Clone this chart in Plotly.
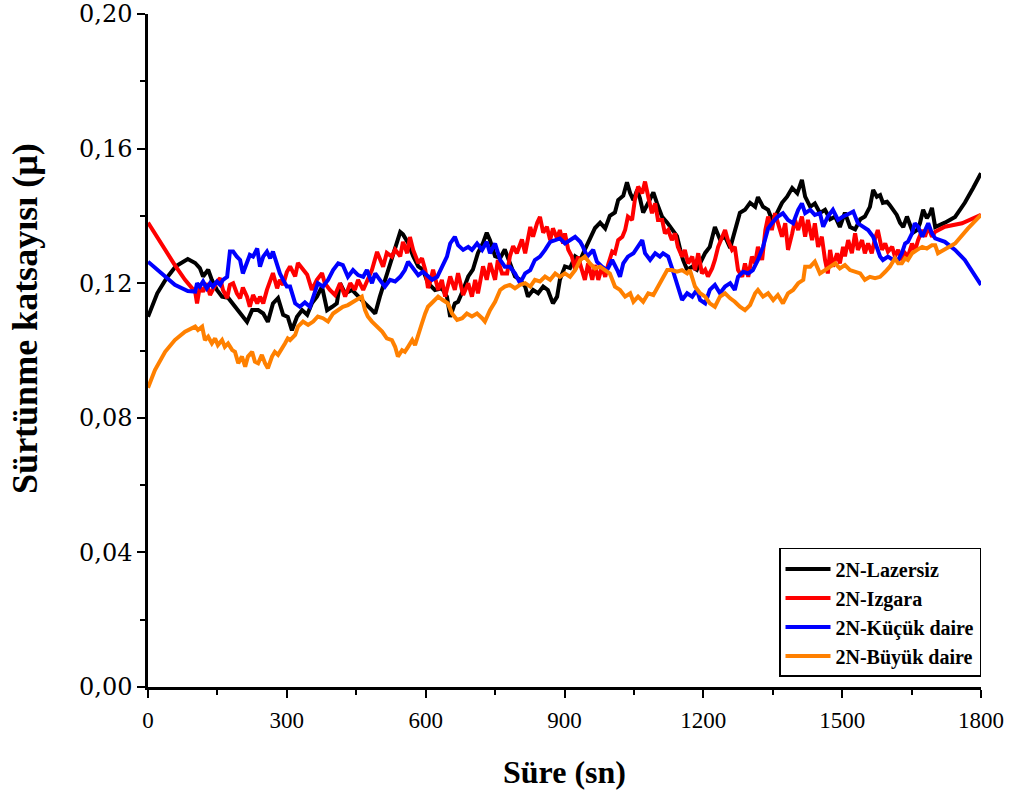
import plotly.graph_objects as go

# ---- data (time in s, friction coefficient) ----
t_lazersiz = [0, 20, 40, 60, 86, 102, 112, 119, 130, 138, 149, 160, 173, 188, 203, 214, 225, 238, 249, 259, 270, 281, 292, 302, 311, 322, 333, 344, 354, 365, 376, 387, 398, 408, 415, 426, 441, 454, 469, 484, 491, 501, 512, 523, 534, 545, 551, 562, 573, 584, 594, 605, 620, 635, 646, 653, 663, 670, 681, 692, 702, 713, 724, 732, 739, 750, 761, 771, 782, 793, 804, 815, 821, 832, 843, 854, 864, 875, 884, 890, 901, 912, 923, 934, 944, 955, 966, 977, 988, 998, 1009, 1016, 1027, 1035, 1042, 1049, 1057, 1063, 1070, 1081, 1092, 1100, 1111, 1122, 1132, 1143, 1150, 1156, 1165, 1176, 1186, 1197, 1204, 1214, 1225, 1236, 1247, 1258, 1268, 1279, 1290, 1301, 1312, 1318, 1329, 1340, 1348, 1359, 1370, 1381, 1392, 1403, 1413, 1420, 1431, 1441, 1452, 1463, 1474, 1485, 1495, 1506, 1517, 1528, 1539, 1549, 1560, 1567, 1575, 1582, 1588, 1597, 1603, 1610, 1618, 1625, 1632, 1640, 1647, 1653, 1662, 1668, 1675, 1683, 1690, 1694, 1701, 1722, 1744, 1765, 1783, 1800]
mu_lazersiz = [0.110, 0.117, 0.1215, 0.125, 0.1272, 0.126, 0.1245, 0.122, 0.124, 0.121, 0.118, 0.116, 0.1157, 0.113, 0.110, 0.1085, 0.112, 0.112, 0.111, 0.1085, 0.114, 0.1156, 0.1106, 0.110, 0.106, 0.110, 0.112, 0.1106, 0.114, 0.116, 0.119, 0.112, 0.113, 0.114, 0.120, 0.117, 0.118, 0.116, 0.114, 0.112, 0.111, 0.116, 0.121, 0.126, 0.130, 0.1352, 0.1345, 0.132, 0.128, 0.125, 0.124, 0.120, 0.118, 0.1185, 0.116, 0.110, 0.114, 0.1145, 0.118, 0.122, 0.124, 0.129, 0.132, 0.135, 0.1328, 0.128, 0.1275, 0.130, 0.126, 0.122, 0.121, 0.119, 0.116, 0.118, 0.117, 0.119, 0.118, 0.114, 0.116, 0.121, 0.125, 0.1245, 0.128, 0.1269, 0.130, 0.133, 0.1364, 0.138, 0.1363, 0.140, 0.141, 0.1447, 0.146, 0.150, 0.1467, 0.1447, 0.1477, 0.1452, 0.141, 0.1439, 0.147, 0.1437, 0.1397, 0.138, 0.136, 0.134, 0.130, 0.127, 0.124, 0.1249, 0.124, 0.1269, 0.129, 0.1308, 0.1367, 0.133, 0.1338, 0.1305, 0.135, 0.1409, 0.1418, 0.1439, 0.1427, 0.1456, 0.1427, 0.1418, 0.139, 0.1408, 0.1439, 0.1457, 0.1483, 0.1467, 0.1507, 0.1457, 0.1427, 0.1437, 0.1409, 0.1418, 0.139, 0.1398, 0.1367, 0.141, 0.1367, 0.136, 0.139, 0.1398, 0.1427, 0.1477, 0.1457, 0.1462, 0.1439, 0.1442, 0.1432, 0.1418, 0.1403, 0.138, 0.1367, 0.1398, 0.1368, 0.135, 0.1358, 0.1378, 0.1418, 0.1393, 0.1408, 0.1424, 0.1367, 0.138, 0.1397, 0.1439, 0.1483, 0.1527]

t_izgara = [0, 30, 58, 80, 102, 106, 112, 119, 127, 134, 140, 149, 156, 162, 171, 177, 184, 192, 199, 205, 214, 220, 227, 236, 242, 249, 257, 264, 270, 279, 285, 292, 300, 307, 318, 324, 335, 344, 354, 365, 376, 382, 393, 404, 415, 426, 437, 447, 454, 465, 473, 484, 495, 501, 508, 516, 527, 534, 545, 551, 560, 566, 573, 584, 592, 599, 605, 609, 616, 627, 635, 642, 653, 663, 670, 681, 692, 700, 707, 713, 724, 732, 739, 750, 756, 765, 776, 782, 789, 797, 808, 815, 826, 832, 841, 847, 854, 862, 869, 875, 884, 890, 897, 901, 908, 916, 923, 929, 938, 944, 951, 960, 966, 973, 981, 988, 994, 1003, 1009, 1016, 1025, 1031, 1037, 1046, 1052, 1059, 1068, 1074, 1081, 1089, 1096, 1102, 1111, 1117, 1124, 1132, 1139, 1145, 1154, 1160, 1167, 1176, 1182, 1189, 1197, 1204, 1210, 1219, 1225, 1232, 1241, 1247, 1253, 1262, 1268, 1275, 1284, 1290, 1297, 1305, 1312, 1318, 1327, 1334, 1340, 1348, 1355, 1361, 1370, 1377, 1383, 1392, 1398, 1405, 1413, 1420, 1426, 1435, 1441, 1448, 1456, 1463, 1469, 1474, 1480, 1489, 1495, 1502, 1506, 1513, 1521, 1528, 1534, 1543, 1549, 1556, 1564, 1571, 1577, 1586, 1593, 1599, 1608, 1614, 1621, 1629, 1636, 1642, 1651, 1657, 1664, 1673, 1679, 1686, 1694, 1701, 1722, 1759, 1800]
mu_izgara = [0.138, 0.1314, 0.1254, 0.121, 0.1174, 0.114, 0.119, 0.1175, 0.120, 0.1165, 0.118, 0.1204, 0.1215, 0.118, 0.1156, 0.1195, 0.120, 0.117, 0.1155, 0.1187, 0.116, 0.113, 0.1165, 0.114, 0.116, 0.114, 0.118, 0.121, 0.123, 0.1185, 0.121, 0.1195, 0.1233, 0.125, 0.122, 0.126, 0.1239, 0.1225, 0.118, 0.121, 0.123, 0.120, 0.118, 0.1165, 0.120, 0.116, 0.120, 0.118, 0.121, 0.118, 0.1205, 0.124, 0.1293, 0.127, 0.1249, 0.129, 0.1279, 0.130, 0.128, 0.1323, 0.1289, 0.1337, 0.1299, 0.126, 0.1274, 0.124, 0.1186, 0.120, 0.124, 0.118, 0.121, 0.116, 0.122, 0.118, 0.123, 0.1165, 0.120, 0.116, 0.121, 0.117, 0.125, 0.121, 0.126, 0.121, 0.1269, 0.1229, 0.1229, 0.128, 0.131, 0.1289, 0.133, 0.1289, 0.1367, 0.1338, 0.138, 0.1397, 0.135, 0.1368, 0.1328, 0.1363, 0.1333, 0.1358, 0.1318, 0.1348, 0.130, 0.1279, 0.124, 0.1279, 0.124, 0.121, 0.1259, 0.121, 0.1254, 0.121, 0.1249, 0.1219, 0.1254, 0.1294, 0.1289, 0.1328, 0.1338, 0.1358, 0.1398, 0.1388, 0.1447, 0.1487, 0.1467, 0.1502, 0.1457, 0.1408, 0.1437, 0.1388, 0.1388, 0.1348, 0.1358, 0.1328, 0.1348, 0.1308, 0.1279, 0.1299, 0.1259, 0.1279, 0.1239, 0.1289, 0.1229, 0.124, 0.122, 0.1244, 0.1269, 0.1308, 0.1338, 0.1358, 0.1328, 0.1299, 0.1308, 0.1239, 0.1219, 0.1259, 0.1219, 0.1279, 0.1259, 0.1308, 0.1269, 0.1358, 0.1398, 0.1358, 0.1408, 0.1378, 0.1338, 0.1378, 0.1299, 0.1348, 0.1388, 0.1358, 0.1398, 0.1338, 0.1388, 0.1328, 0.1378, 0.1308, 0.1338, 0.1269, 0.1229, 0.1299, 0.1249, 0.1289, 0.1259, 0.1308, 0.128, 0.1328, 0.1289, 0.1348, 0.1299, 0.1328, 0.1289, 0.1318, 0.1289, 0.1333, 0.1358, 0.1299, 0.1318, 0.1294, 0.1308, 0.1279, 0.1299, 0.1269, 0.1289, 0.1279, 0.1318, 0.1294, 0.1328, 0.1358, 0.1338, 0.1368, 0.1338, 0.1353, 0.1368, 0.1378, 0.1403]

t_kucuk = [0, 30, 58, 86, 102, 106, 112, 119, 127, 134, 140, 149, 156, 162, 171, 177, 184, 192, 199, 205, 214, 220, 227, 236, 242, 249, 257, 264, 270, 279, 285, 292, 300, 307, 318, 328, 339, 350, 357, 367, 378, 389, 400, 411, 421, 432, 443, 454, 465, 473, 484, 491, 501, 512, 523, 534, 545, 555, 562, 573, 584, 594, 605, 614, 625, 635, 646, 653, 663, 670, 681, 692, 700, 711, 722, 732, 739, 750, 761, 771, 782, 793, 804, 815, 826, 836, 847, 858, 869, 880, 890, 901, 912, 923, 934, 940, 949, 955, 962, 970, 981, 992, 1003, 1014, 1020, 1027, 1037, 1049, 1059, 1068, 1074, 1085, 1096, 1106, 1113, 1124, 1135, 1145, 1154, 1165, 1176, 1186, 1193, 1204, 1214, 1225, 1236, 1247, 1258, 1268, 1275, 1286, 1297, 1307, 1318, 1329, 1340, 1351, 1361, 1372, 1383, 1394, 1405, 1413, 1420, 1431, 1441, 1452, 1459, 1469, 1480, 1491, 1502, 1517, 1524, 1534, 1545, 1556, 1567, 1575, 1582, 1588, 1599, 1610, 1621, 1629, 1636, 1642, 1651, 1657, 1664, 1673, 1679, 1686, 1694, 1701, 1722, 1744, 1765, 1783, 1800]
mu_kucuk = [0.1264, 0.1229, 0.1195, 0.1177, 0.1175, 0.120, 0.119, 0.1205, 0.1185, 0.120, 0.119, 0.1205, 0.1195, 0.121, 0.1219, 0.1294, 0.1294, 0.1279, 0.1269, 0.1229, 0.1259, 0.1284, 0.1279, 0.1303, 0.1249, 0.1279, 0.1294, 0.1274, 0.1294, 0.1249, 0.1229, 0.121, 0.119, 0.119, 0.114, 0.113, 0.1143, 0.113, 0.116, 0.120, 0.119, 0.121, 0.1239, 0.1259, 0.1254, 0.1219, 0.1239, 0.1224, 0.1219, 0.1239, 0.120, 0.1229, 0.121, 0.119, 0.121, 0.1205, 0.1219, 0.1239, 0.1264, 0.1244, 0.1224, 0.1234, 0.1219, 0.121, 0.1219, 0.1249, 0.1279, 0.1318, 0.1338, 0.1313, 0.1299, 0.1308, 0.1299, 0.1318, 0.1299, 0.1323, 0.1289, 0.1318, 0.1269, 0.1249, 0.1249, 0.1229, 0.120, 0.1229, 0.1239, 0.1269, 0.1279, 0.1299, 0.1323, 0.1328, 0.1333, 0.1318, 0.1328, 0.1338, 0.1323, 0.1308, 0.1279, 0.1289, 0.1299, 0.1264, 0.1249, 0.1239, 0.1269, 0.1239, 0.1219, 0.1259, 0.1279, 0.1289, 0.1308, 0.1328, 0.1289, 0.1269, 0.1289, 0.1279, 0.1289, 0.1279, 0.1234, 0.119, 0.115, 0.117, 0.116, 0.118, 0.115, 0.114, 0.118, 0.1195, 0.117, 0.119, 0.120, 0.118, 0.1219, 0.1234, 0.1229, 0.1239, 0.1269, 0.1308, 0.1363, 0.1383, 0.1398, 0.1408, 0.1388, 0.1378, 0.1418, 0.1437, 0.1408, 0.1418, 0.1403, 0.1408, 0.1368, 0.1398, 0.1418, 0.1388, 0.1398, 0.1408, 0.1413, 0.1378, 0.1368, 0.1358, 0.1338, 0.1308, 0.1279, 0.1269, 0.1279, 0.1269, 0.1269, 0.1289, 0.1318, 0.1323, 0.1348, 0.1378, 0.1368, 0.1338, 0.1358, 0.1378, 0.1348, 0.1333, 0.1323, 0.1299, 0.1269, 0.1229, 0.1195]

t_buyuk = [0, 15, 37, 58, 80, 102, 108, 117, 123, 130, 138, 145, 151, 160, 166, 173, 182, 188, 195, 203, 210, 216, 225, 231, 238, 246, 253, 259, 268, 274, 281, 290, 296, 302, 307, 318, 324, 335, 346, 357, 367, 378, 389, 400, 411, 421, 432, 443, 454, 462, 469, 475, 484, 495, 506, 516, 527, 534, 540, 549, 555, 562, 571, 577, 584, 592, 599, 605, 616, 627, 637, 648, 657, 668, 679, 689, 700, 711, 722, 728, 739, 750, 761, 771, 782, 793, 804, 815, 826, 836, 847, 858, 869, 880, 890, 901, 912, 923, 934, 944, 955, 966, 977, 988, 998, 1009, 1020, 1031, 1042, 1049, 1059, 1070, 1081, 1092, 1100, 1111, 1122, 1132, 1143, 1154, 1165, 1171, 1182, 1193, 1204, 1214, 1225, 1236, 1247, 1258, 1268, 1279, 1290, 1301, 1312, 1318, 1329, 1340, 1351, 1361, 1372, 1383, 1394, 1405, 1416, 1420, 1431, 1441, 1452, 1463, 1474, 1485, 1495, 1506, 1517, 1528, 1539, 1549, 1560, 1571, 1582, 1593, 1603, 1614, 1621, 1629, 1636, 1642, 1651, 1662, 1673, 1683, 1694, 1701, 1707, 1744, 1772, 1800]
mu_buyuk = [0.0889, 0.0942, 0.0996, 0.1031, 0.1056, 0.1071, 0.1061, 0.1071, 0.1031, 0.1041, 0.1021, 0.1036, 0.1016, 0.1031, 0.1011, 0.1021, 0.1001, 0.0996, 0.0962, 0.0982, 0.0952, 0.0982, 0.0996, 0.0967, 0.0962, 0.0987, 0.0962, 0.0947, 0.0982, 0.0996, 0.0987, 0.1011, 0.1021, 0.1036, 0.1031, 0.1046, 0.1071, 0.1086, 0.1076, 0.1086, 0.1101, 0.1096, 0.1086, 0.1110, 0.112, 0.113, 0.1135, 0.1145, 0.1155, 0.116, 0.112, 0.1101, 0.1086, 0.1071, 0.1056, 0.1036, 0.1031, 0.1011, 0.0982, 0.1001, 0.0996, 0.1011, 0.1031, 0.1016, 0.1051, 0.1081, 0.1110, 0.113, 0.1145, 0.116, 0.115, 0.114, 0.111, 0.1091, 0.1096, 0.111, 0.1101, 0.111, 0.1096, 0.1086, 0.112, 0.1145, 0.118, 0.119, 0.1195, 0.1185, 0.1195, 0.120, 0.119, 0.121, 0.1205, 0.122, 0.121, 0.1229, 0.1219, 0.1229, 0.1219, 0.1239, 0.1269, 0.1279, 0.1259, 0.1244, 0.1249, 0.1239, 0.1229, 0.119, 0.118, 0.116, 0.117, 0.1145, 0.116, 0.1145, 0.117, 0.1165, 0.1185, 0.121, 0.1239, 0.1239, 0.1234, 0.1239, 0.1229, 0.1239, 0.119, 0.117, 0.116, 0.114, 0.113, 0.116, 0.117, 0.1155, 0.1145, 0.113, 0.112, 0.1135, 0.117, 0.118, 0.116, 0.117, 0.115, 0.1165, 0.114, 0.117, 0.118, 0.120, 0.121, 0.1249, 0.1249, 0.1264, 0.1229, 0.1239, 0.1249, 0.1259, 0.1244, 0.1254, 0.1239, 0.1234, 0.1229, 0.121, 0.1219, 0.1215, 0.1219, 0.1234, 0.1249, 0.1274, 0.1259, 0.1259, 0.1274, 0.1269, 0.1289, 0.1299, 0.1308, 0.1303, 0.1313, 0.1313, 0.1289, 0.1318, 0.1363, 0.1403]

series_names = ["2N-Lazersiz", "2N-Izgara", "2N-Küçük daire", "2N-Büyük daire"]
series_colors = ["#000000", "#ff0000", "#0000ff", "#ff8000"]

x_tickvals = [0, 300, 600, 900, 1200, 1500, 1800]
x_ticktext = ["0", "300", "600", "900", "1200", "1500", "1800"]
y_tickvals = [0.0, 0.04, 0.08, 0.12, 0.16, 0.20]
y_ticktext = ["0,00", "0,04", "0,08", "0,12", "0,16", "0,20"]

x_title = "Süre (sn)"
y_title = "Sürtünme katsayısı (µ)"

# ---- figure ----
fig = go.Figure()
for t, mu, name, color in zip([t_lazersiz, t_izgara, t_kucuk, t_buyuk],
                              [mu_lazersiz, mu_izgara, mu_kucuk, mu_buyuk],
                              series_names, series_colors):
    fig.add_trace(go.Scatter(x=t, y=mu, mode="lines", name=name,
                             line=dict(color=color, width=4)))

serif = "Liberation Serif"
axis_common = dict(showline=True, linecolor="black", linewidth=2.5, mirror=False,
                   showgrid=False, zeroline=False, ticks="outside", ticklen=8,
                   tickwidth=2, tickcolor="black", automargin=False)

fig.update_xaxes(range=[0, 1800], tickmode="array", tickvals=x_tickvals, ticktext=x_ticktext,
                 tickfont=dict(family=serif, size=23, color="black"),
                 minor=dict(dtick=150, ticklen=5, tickwidth=2, tickcolor="black", ticks="outside"),
                 ticklabelstandoff=3, **axis_common)
fig.update_yaxes(range=[0, 0.20], tickmode="array", tickvals=y_tickvals, ticktext=y_ticktext,
                 tickfont=dict(family="DejaVu Serif", size=24, color="black"),
                 minor=dict(dtick=0.02, ticklen=5, tickwidth=2, tickcolor="black", ticks="outside"),
                 **axis_common)

fig.update_layout(
    width=1019, height=801,
    margin=dict(l=148, r=38, t=14, b=114, autoexpand=False),
    paper_bgcolor="white", plot_bgcolor="white",
    showlegend=True,
    legend=dict(x=1.0, xanchor="right", y=0.015, yanchor="bottom",
                bgcolor="white", bordercolor="black", borderwidth=1.5,
                font=dict(family=serif, size=20, color="black", weight="bold"),
                itemwidth=45, tracegroupgap=0),
    annotations=[
        dict(text=x_title, xref="paper", yref="paper", x=0.5, y=-0.126,
             xanchor="center", yanchor="middle", showarrow=False,
             font=dict(family=serif, size=32, color="black", weight="bold")),
        dict(text=y_title, xref="paper", yref="paper", x=-0.148, y=0.548,
             xanchor="center", yanchor="middle", showarrow=False, textangle=-90,
             font=dict(family=serif, size=36, color="black", weight="bold")),
    ],
)

fig.write_html("out.html")
